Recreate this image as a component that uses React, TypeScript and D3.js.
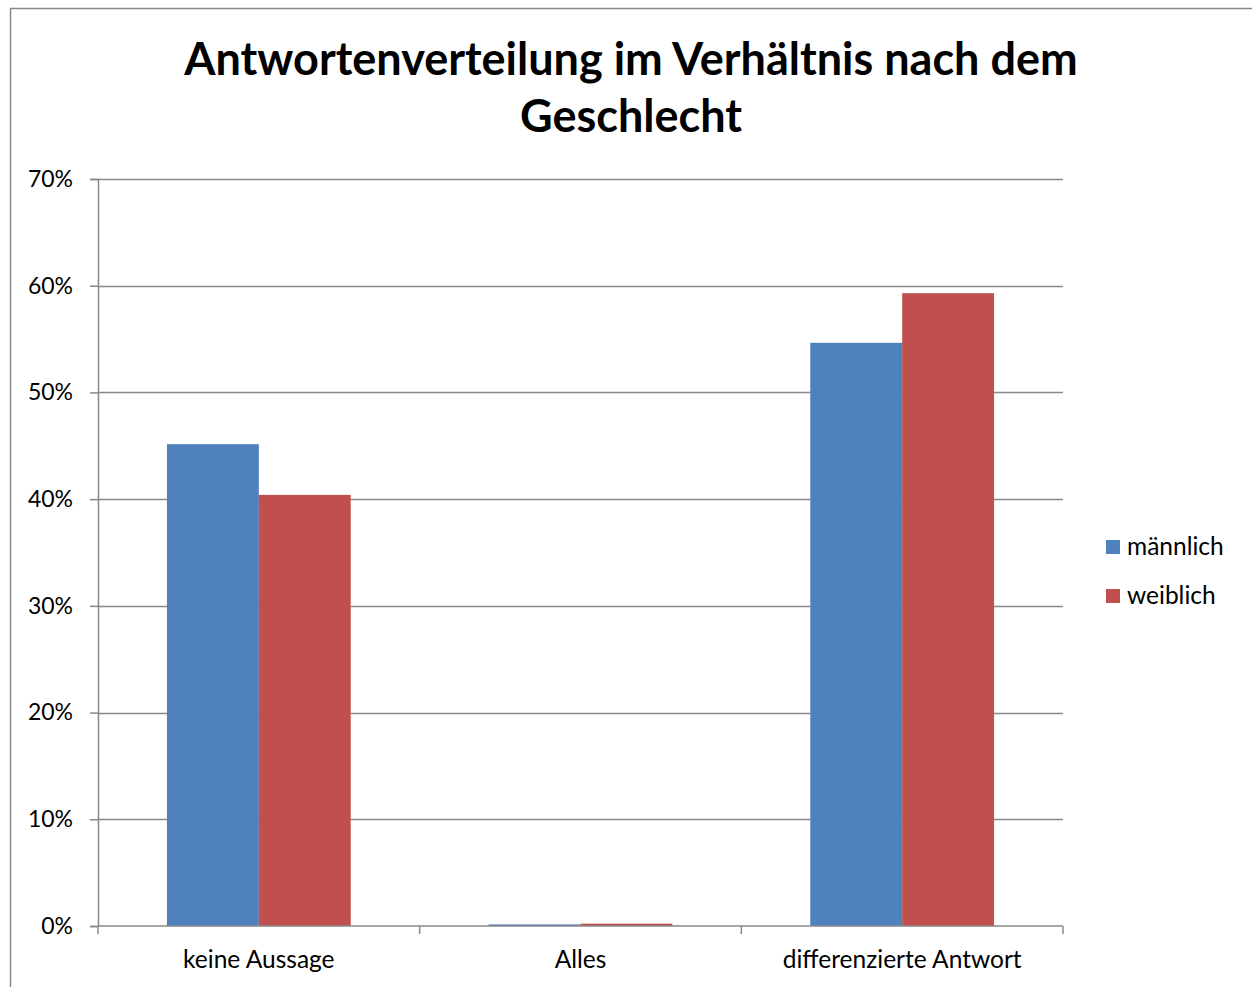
import React, { useEffect, useRef } from 'react';
import * as d3 from 'd3';

const categories = ['keine Aussage', 'Alles', 'differenzierte Antwort'];
const seriesNames = ['männlich', 'weiblich'];
const maennlich = [0.4515, 0.0015, 0.5465];
const weiblich = [0.404, 0.0022, 0.593];
const yTicks = [0, 0.1, 0.2, 0.3, 0.4, 0.5, 0.6, 0.7];
const titleLines = ['Antwortenverteilung im Verhältnis nach dem', 'Geschlecht'];
const colors = ['#4f81bd', '#c0504d'];

const W = 1252;
const H = 987;
const FONT = 'Lato, "Open Sans", sans-serif';

export default function App() {
  const ref = useRef<SVGSVGElement>(null);

  useEffect(() => {
    const svg = d3.select(ref.current);
    svg.selectAll('*').remove();

    const margin = { top: 179, left: 98, right: W - 1063, bottom: H - 926 };
    const plotW = W - margin.left - margin.right;
    const plotH = H - margin.top - margin.bottom;

    // chart border
    svg.append('rect')
      .attr('x', 10.5).attr('y', 8.5)
      .attr('width', W).attr('height', H)
      .attr('fill', 'white')
      .attr('stroke', '#888').attr('stroke-width', 1.5);

    // title
    svg.append('text')
      .attr('x', 631).attr('y', 75)
      .attr('text-anchor', 'middle')
      .attr('font-family', FONT).attr('font-weight', 'bold')
      .attr('font-size', 45).attr('fill', '#000')
      .selectAll('tspan')
      .data(titleLines)
      .enter().append('tspan')
      .attr('x', 631)
      .attr('dy', (d, i) => (i === 0 ? 0 : 57))
      .text(d => d);

    const g = svg.append('g').attr('transform', `translate(${margin.left},${margin.top})`);

    const x = d3.scaleBand().domain(categories).range([0, plotW]);
    const x1 = d3.scaleBand().domain(seriesNames).range([0, x.bandwidth()]).paddingOuter(0.75).paddingInner(0);
    const y = d3.scaleLinear().domain([0, 0.7]).range([plotH, 0]);

    // gridlines
    g.append('g').selectAll('line')
      .data(yTicks.filter(t => t > 0))
      .enter().append('line')
      .attr('x1', 0).attr('x2', plotW)
      .attr('y1', d => Math.round(y(d)) + 0.5).attr('y2', d => Math.round(y(d)) + 0.5)
      .attr('stroke', '#888').attr('stroke-width', 1.5);

    // bars
    const data = [maennlich, weiblich];
    data.forEach((vals, si) => {
      g.append('g').selectAll('rect')
        .data(vals)
        .enter().append('rect')
        .attr('x', (d, i) => x(categories[i])! + x1(seriesNames[si])!)
        .attr('y', d => y(d))
        .attr('width', x1.bandwidth())
        .attr('height', d => plotH - y(d))
        .attr('fill', colors[si]);
    });

    // y axis
    const yAxis = d3.axisLeft(y).tickValues(yTicks).tickSize(8).tickPadding(17)
      .tickFormat(d => `${Math.round(+d * 100)}%`);
    const ya = g.append('g').call(yAxis);
    ya.select('.domain').attr('stroke', '#888').attr('stroke-width', 1.5);
    ya.selectAll('.tick line').attr('stroke', '#888').attr('stroke-width', 1.5);
    ya.selectAll('.tick text').attr('font-family', FONT).attr('font-size', 23).attr('fill', '#000');

    // x axis
    const xa = g.append('g').attr('transform', `translate(0,${plotH})`);
    xa.append('line').attr('x1', 0).attr('x2', plotW).attr('y1', 0).attr('y2', 0)
      .attr('stroke', '#888').attr('stroke-width', 1.5);
    xa.selectAll('.xt')
      .data(d3.range(categories.length + 1))
      .enter().append('line')
      .attr('x1', i => i * x.step()).attr('x2', i => i * x.step())
      .attr('y1', 0).attr('y2', 8)
      .attr('stroke', '#888').attr('stroke-width', 1.5);
    xa.selectAll('.xl')
      .data(categories)
      .enter().append('text')
      .attr('x', d => x(d)! + x.bandwidth() / 2)
      .attr('y', 42)
      .attr('text-anchor', 'middle')
      .attr('font-family', FONT).attr('font-size', 24.5).attr('fill', '#000')
      .text(d => d);

    // legend
    const lg = svg.append('g').attr('transform', 'translate(1106,540)');
    seriesNames.forEach((s, i) => {
      lg.append('rect').attr('x', 0).attr('y', i * 49).attr('width', 14).attr('height', 14).attr('fill', colors[i]);
      lg.append('text').attr('x', 21).attr('y', i * 49 + 15)
        .attr('font-family', FONT).attr('font-size', 24.5).attr('fill', '#000').text(s);
    });
  }, []);

  return (
    <svg ref={ref} width={W} height={H}
      style={{ position: 'absolute', left: 0, top: 0, background: 'white' }} />
  );
}
